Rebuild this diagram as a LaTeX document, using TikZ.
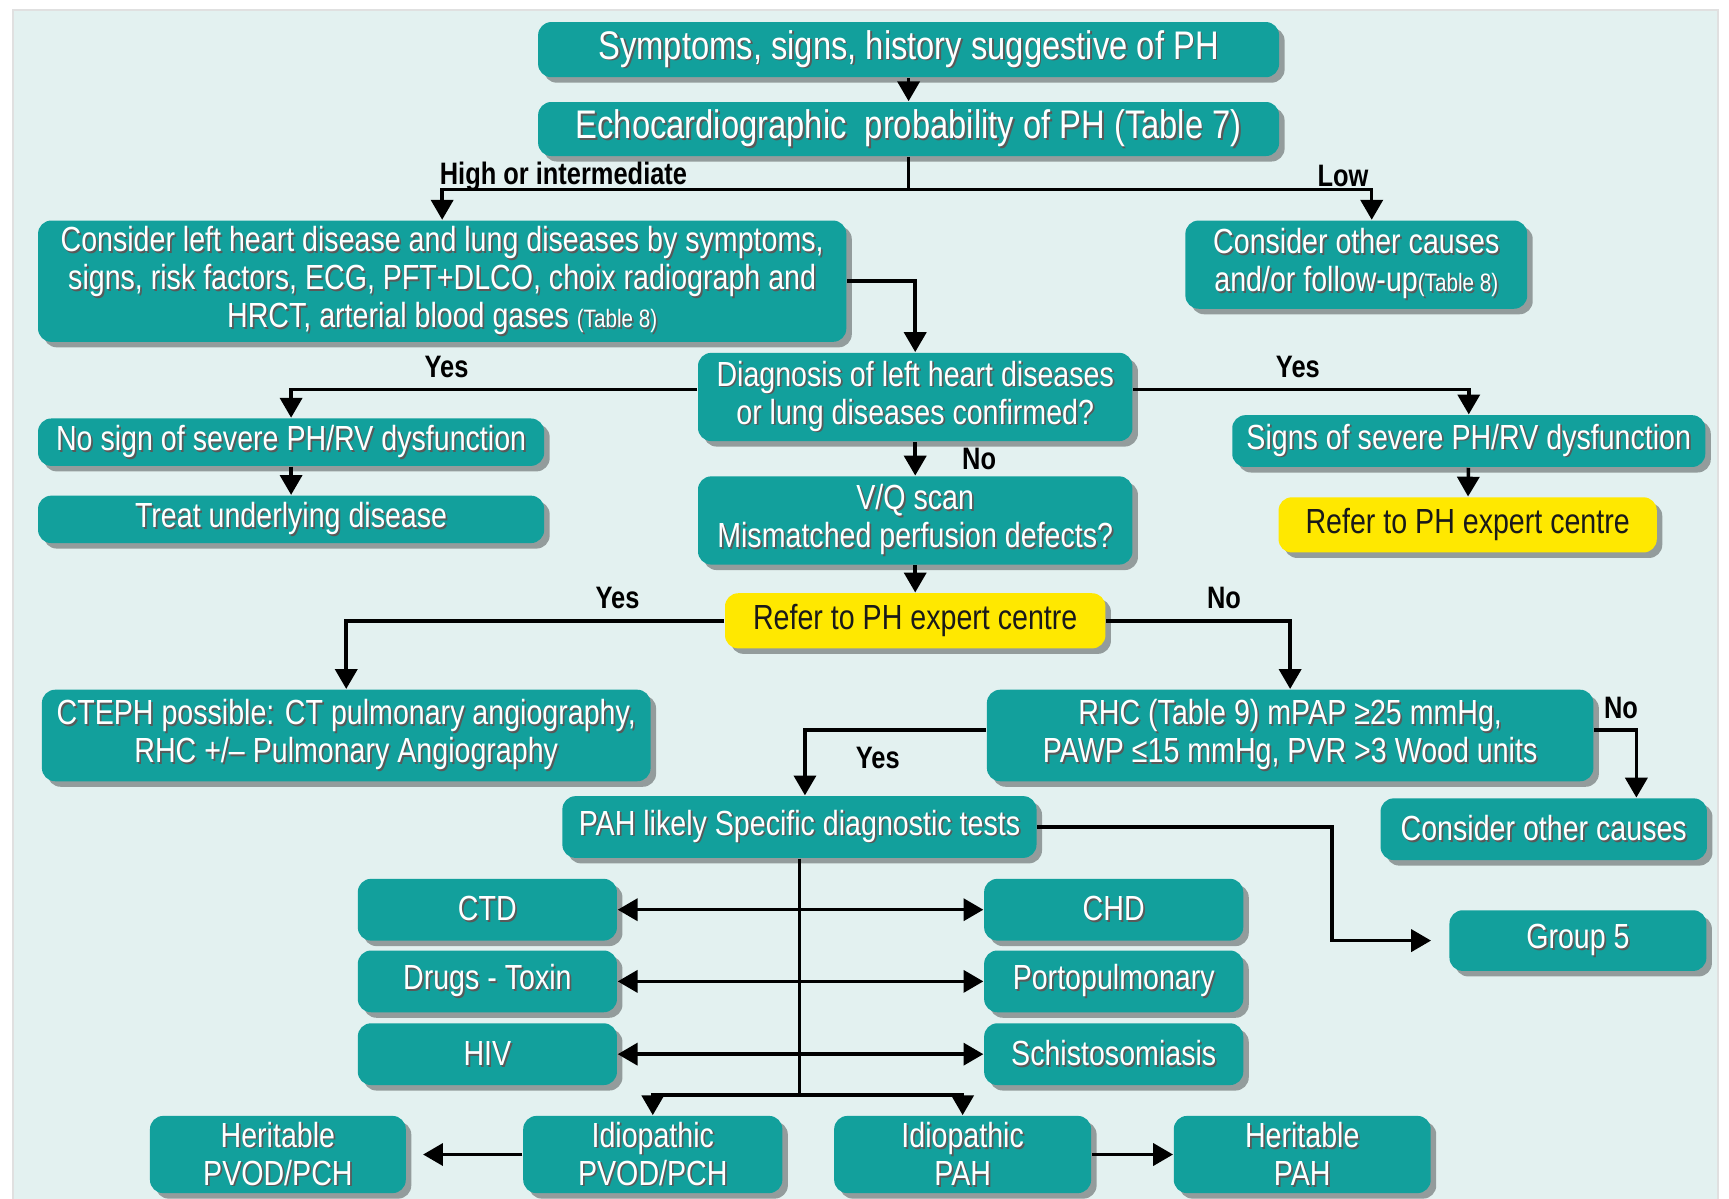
\documentclass[tikz,border=0pt]{standalone}
\usepackage{fontspec}
\setmainfont{Liberation Sans}[FakeStretch=0.82]
\usetikzlibrary{arrows.meta,shadows}

\definecolor{phteal}{RGB}{18,160,156}
\definecolor{phyellow}{RGB}{255,232,0}
\definecolor{phpanel}{RGB}{227,241,240}

\newcommand\tblsize{\fontsize{6.5}{7}\selectfont}
% white text with a dark shadow, one line at a time
\newcommand\txtshadow[1]{\leavevmode\rlap{\kern0.45pt\raisebox{-0.45pt}{\color{black!65}#1}}#1}

\tikzset{
  box/.style={rectangle, rounded corners=1.2mm, fill=phteal, text=white,
    align=center, inner sep=0pt,
    drop shadow={shadow xshift=0.5mm, shadow yshift=-0.5mm, opacity=0.35, fill=black},
    font=\fontsize{9}{9.8}\selectfont},
  bigbox/.style={box, font=\fontsize{10.3}{12}\selectfont},
  referbox/.style={box, fill=phyellow, text=black!90},
  lbl/.style={font=\bfseries\fontsize{8}{9}\selectfont, text=black},
  arr/.style={-{Triangle[length=1.8mm,width=2.0mm]}, line width=0.9pt},
  arrboth/.style={{Triangle[length=1.8mm,width=2.0mm]}-{Triangle[length=1.8mm,width=2.0mm]}, line width=0.9pt},
  line/.style={line width=0.9pt}
}

\begin{document}
\begin{tikzpicture}[x=0.1mm, y=-0.1mm]
    \useasboundingbox (0,0) rectangle (1568,1087);
    \fill[white] (0,0) rectangle (1568,1087);
    \filldraw[fill=phpanel, draw=black!12] (12,9) rectangle (1558,1095);

    % Boxes
    \node[bigbox, minimum width=67.2mm, minimum height=5.0mm] (sym) at (824,45) {\txtshadow{Symptoms, signs, history suggestive of PH}};
    \node[bigbox, minimum width=67.2mm, minimum height=4.9mm] (echo) at (824,117) {\txtshadow{Echocardiographic\ \ probability of PH (Table 7)}};
    \node[box, minimum width=73.3mm, minimum height=11.0mm] (left) at (401,255) {\txtshadow{Consider left heart disease and lung diseases by symptoms,}\\ \txtshadow{signs, risk factors, ECG, PFT+DLCO, choix radiograph and}\\ \txtshadow{HRCT, arterial blood gases {\tblsize(Table 8)}}};
    \node[box, minimum width=31.0mm, minimum height=8.0mm] (other1) at (1230,240) {\txtshadow{Consider other causes}\\ \txtshadow{and/or follow-up{\tblsize(Table 8)}}};
    \node[box, minimum width=39.4mm, minimum height=8.0mm] (diag) at (830,360) {\txtshadow{Diagnosis of left heart diseases}\\ \txtshadow{or lung diseases confirmed?}};
    \node[box, minimum width=45.9mm, minimum height=4.3mm] (nosign) at (264,401) {\txtshadow{No sign of severe PH/RV dysfunction}};
    \node[box, minimum width=45.9mm, minimum height=4.3mm] (treat) at (264,471) {\txtshadow{Treat underlying disease}};
    \node[box, minimum width=42.9mm, minimum height=4.7mm] (signs) at (1332,400) {\txtshadow{Signs of severe PH/RV dysfunction}};
    \node[referbox, minimum width=34.3mm, minimum height=5.0mm] (refer1) at (1331,476) {Refer to PH expert centre};
    \node[box, minimum width=39.4mm, minimum height=8.0mm] (vq) at (830,472) {\txtshadow{V/Q scan}\\ \txtshadow{Mismatched perfusion defects?}};
    \node[referbox, minimum width=34.5mm, minimum height=5.0mm] (refer2) at (830,563) {Refer to PH expert centre};
    \node[box, minimum width=55.2mm, minimum height=8.3mm] (cteph) at (314,667) {\txtshadow{CTEPH possible: CT pulmonary angiography,}\\ \txtshadow{RHC +/-- Pulmonary Angiography}};
    \node[box, minimum width=55.0mm, minimum height=8.3mm] (rhc) at (1170,667) {\txtshadow{RHC (Table 9) mPAP ≥25 mmHg,}\\ \txtshadow{PAWP ≤15 mmHg, PVR >3 Wood units}};
    \node[box, minimum width=43.0mm, minimum height=5.6mm] (pah) at (725,750) {\txtshadow{PAH likely Specific diagnostic tests}};
    \node[box, minimum width=29.6mm, minimum height=5.6mm] (other2) at (1400,752) {\txtshadow{Consider other causes}};
    \node[box, minimum width=23.5mm, minimum height=5.6mm] (ctd) at (442,825) {\txtshadow{CTD}};
    \node[box, minimum width=23.5mm, minimum height=5.6mm] (drugs) at (442,890) {\txtshadow{Drugs - Toxin}};
    \node[box, minimum width=23.5mm, minimum height=5.6mm] (hiv) at (442,956) {\txtshadow{HIV}};
    \node[box, minimum width=23.5mm, minimum height=5.6mm] (chd) at (1010,825) {\txtshadow{CHD}};
    \node[box, minimum width=23.5mm, minimum height=5.6mm] (porto) at (1010,890) {\txtshadow{Portopulmonary}};
    \node[box, minimum width=23.5mm, minimum height=5.6mm] (schisto) at (1010,956) {\txtshadow{Schistosomiasis}};
    \node[box, minimum width=23.3mm, minimum height=5.5mm] (group5) at (1431,853) {\txtshadow{Group 5}};
    \node[box, minimum width=23.2mm, minimum height=7.0mm] (herpvod) at (252,1047) {\txtshadow{Heritable}\\ \txtshadow{PVOD/PCH}};
    \node[box, minimum width=23.5mm, minimum height=7.0mm] (idiopvod) at (592,1047) {\txtshadow{Idiopathic}\\ \txtshadow{PVOD/PCH}};
    \node[box, minimum width=23.3mm, minimum height=7.0mm] (idiopah) at (873,1047) {\txtshadow{Idiopathic}\\ \txtshadow{PAH}};
    \node[box, minimum width=23.3mm, minimum height=7.0mm] (herpah) at (1181,1047) {\txtshadow{Heritable}\\ \txtshadow{PAH}};

    % Branch points
    \coordinate (echoj) at (824,172);
    \coordinate (g5x) at (1208,0);
    \coordinate (trunk) at (725,993);

    % Arrows
    \draw[arr] (sym) -- (echo);
    \draw[line] (echo.south) -- (echoj);
    \draw[arr] (echoj) -| (left.north);
    \draw[arr] (echoj) -| ([xshift=1.4mm]other1.north);
    \draw[arr] (left.east) -| (diag.north);
    \draw[arr] ([yshift=0.7mm]diag.west) -| (nosign.north);
    \draw[arr] ([yshift=0.7mm]diag.east) -| (signs.north);
    \draw[arr] (diag) -- (vq);
    \draw[arr] (nosign) -- (treat);
    \draw[arr] (signs) -- (refer1);
    \draw[arr] (vq) -- (refer2);
    \draw[arr] (refer2.west) -| (cteph.north);
    \draw[arr] (refer2.east) -| (rhc.north);
    \draw[arr] ([yshift=0.5mm]rhc.west) -| ([xshift=0.5mm]pah.north);
    \draw[arr] ([yshift=0.5mm]rhc.east) -| ([xshift=8.4mm]other2.north);
    \draw[arr] (pah.east) -- (pah.east -| g5x) |- ([xshift=-1.6mm]group5.west);
    \draw[line] (pah.south) -- (trunk);
    \draw[arrboth] (ctd) -- (chd);
    \draw[arrboth] (drugs) -- (porto);
    \draw[arrboth] (hiv) -- (schisto);
    \draw[arr] (trunk) -| (idiopvod.north);
    \draw[arr] (trunk) -| (idiopah.north);
    \draw[arr] (idiopvod) -- ([xshift=1.5mm]herpvod.east);
    \draw[arr] (idiopah) -- (herpah);

    % Labels
    \node[lbl] (lhigh) at (511,160) {High or intermediate};
    \node[lbl] (llow) at (1218,160) {Low};
    \node[lbl] (lyes1) at (405,333) {Yes};
    \node[lbl] (lyes2) at (1177,333) {Yes};
    \node[lbl] (lno1) at (888,416) {No};
    \node[lbl] (lyes3) at (560,542) {Yes};
    \node[lbl] (lno2) at (1110,542) {No};
    \node[lbl] (lyes4) at (796,687) {Yes};
    \node[lbl] (lno3) at (1470,642) {No};
\end{tikzpicture}
\end{document}
